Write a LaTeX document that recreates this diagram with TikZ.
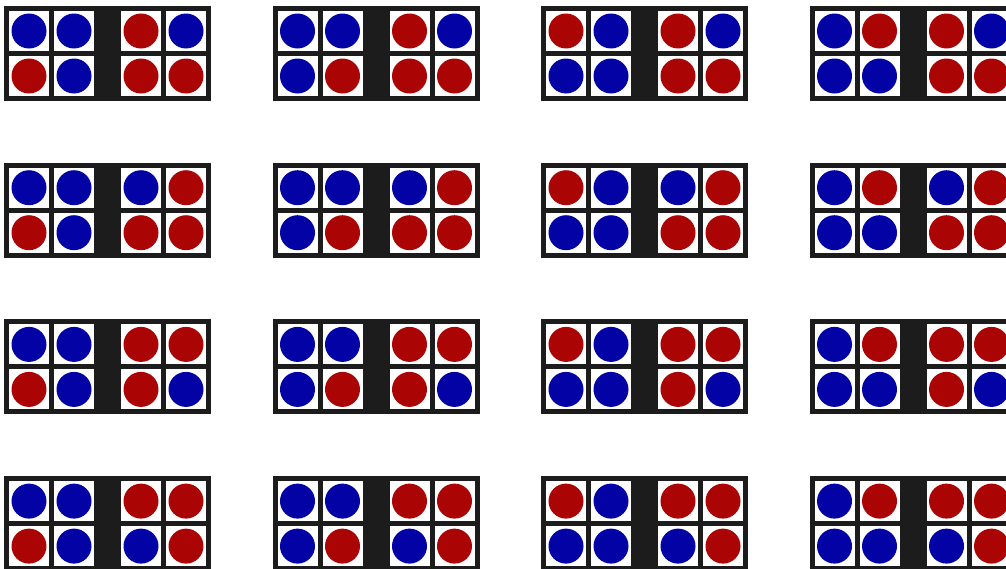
\documentclass[tikz,border=0pt]{standalone}
\usepackage{tikz}
\usepackage{xcolor}
\usetikzlibrary{calc}
\definecolor{framebk}{RGB}{28,28,28}
\definecolor{cellbg}{RGB}{255,255,255}
\definecolor{dotblue}{RGB}{2,2,165}
\definecolor{dotred}{RGB}{170,4,4}

\begin{document}
\begin{tikzpicture}[x=0.02cm, y=-0.02cm]

% Page size (pixel grid)
\useasboundingbox (0,0) rectangle (1006,568);

% Sizes
\def\cw{40}
\def\gap{45}
\def\rad{17.5}
\def\dx{268.5}
\def\dy{156.7}

% Columns: position of the red dot in the left grid
% Rows: position of the blue dot in the right grid
\foreach \c/\lr/\lc in {0/1/0, 1/1/1, 2/0/0, 3/0/1} {
  \foreach \r/\br/\bc in {0/0/1, 1/0/0, 2/1/1, 3/1/0} {
    \coordinate (B) at ({4+\c*\dx}, {6+\r*\dy});

    % Frame and black bar
    \fill[framebk] (B) rectangle ++(207,95);

    % Left grid (blue, one red)
    \foreach \i in {0,1} \foreach \j in {0,1} {
      \pgfmathtruncatemacro\odd{and(\i==\lr,\j==\lc)}
      \ifnum\odd=1 \def\cl{dotred}\else\def\cl{dotblue}\fi
      \fill[cellbg] ($(B)+({5+\j*\gap},{5+\i*\gap})$) rectangle ++(\cw,\cw);
      \fill[\cl] ($(B)+({25+\j*\gap},{25+\i*\gap})$) circle (\rad);
    }

    % Right grid (red, one blue)
    \foreach \i in {0,1} \foreach \j in {0,1} {
      \pgfmathtruncatemacro\odd{and(\i==\br,\j==\bc)}
      \ifnum\odd=1 \def\cl{dotblue}\else\def\cl{dotred}\fi
      \fill[cellbg] ($(B)+({117+\j*\gap},{5+\i*\gap})$) rectangle ++(\cw,\cw);
      \fill[\cl] ($(B)+({137+\j*\gap},{25+\i*\gap})$) circle (\rad);
    }
  }
}

\end{tikzpicture}
\end{document}
